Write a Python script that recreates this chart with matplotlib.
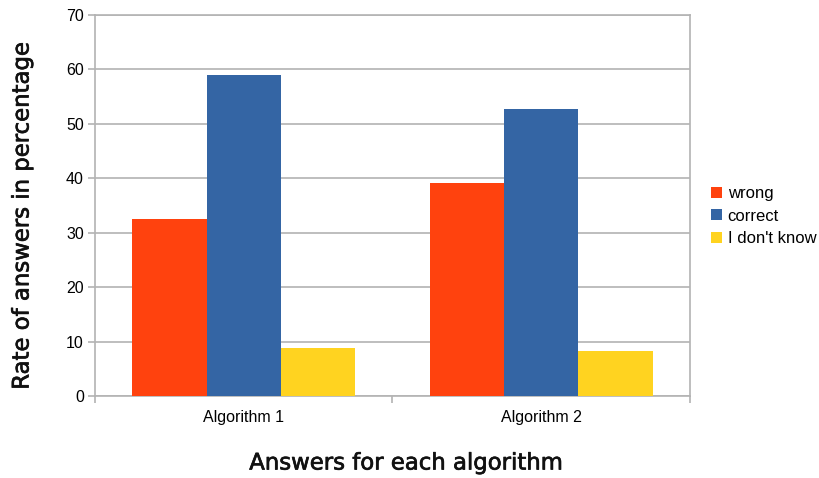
import numpy as np
import matplotlib.pyplot as plt
import matplotlib.patheffects as pe

plt.rcParams['font.family'] = ['Liberation Sans', 'DejaVu Sans']

# answer rates per algorithm (percent)
algorithms = ['Algorithm 1', 'Algorithm 2']
wrong = [32.6, 39.2]
correct = [58.9, 52.8]
dont_know = [8.8, 8.3]
series_names = ['wrong', 'correct', "I don't know"]
colors = ['#ff420e', '#3465a4', '#ffd320']

W, H = 820, 478
fig = plt.figure(figsize=(W / 100, H / 100), dpi=100)
ax = fig.add_axes([95 / W, 1 - 396 / H, 595 / W, 381 / H])

x = np.arange(len(algorithms))
w = 0.25
for i, (vals, name, c) in enumerate(zip([wrong, correct, dont_know], series_names, colors)):
    ax.bar(x + (i - 1) * w, vals, w, color=c, label=name, zorder=3)

grid_c = '#b3b3b3'
ax.set_ylim(0, 70)
ax.set_yticks(range(0, 71, 10))
ax.set_xlim(-0.5, len(algorithms) - 0.5)
ax.set_xticks(x)
ax.set_xticklabels(algorithms)
ax.set_xticks([-0.5, 0.5, 1.5], minor=True)
ax.tick_params(axis='x', which='major', length=0, pad=10, labelsize=11.5)
ax.tick_params(axis='x', which='minor', length=5, color=grid_c, width=1.2)
ax.tick_params(axis='y', length=5, color=grid_c, width=1.2, labelsize=11.5, pad=3)
ax.grid(axis='y', color=grid_c, linewidth=1.2, zorder=0)
for s in ax.spines.values():
    s.set_color(grid_c)
    s.set_linewidth(1.2)

# axis titles
thick = [pe.withStroke(linewidth=0.5, foreground='#111111')]
fig.text(22 / W, 1 - 216 / H, 'Rate of answers in percentage', family='DejaVu Sans',
         fontsize=16.4, rotation=90, ha='center', va='center', color='#111111',
         path_effects=thick)
fig.text(406 / W, 1 - 463 / H, 'Answers for each algorithm', family='DejaVu Sans',
         fontsize=16.4, ha='center', va='center', color='#111111',
         path_effects=thick)

ax.legend(loc='center left', bbox_to_anchor=(711 / W, 1 - 216 / H),
          bbox_transform=fig.transFigure, frameon=False, borderpad=0,
          borderaxespad=0, fontsize=12, handlelength=0.65, handleheight=0.65,
          handletextpad=0.35, labelspacing=0.45)

fig.savefig('out.png', dpi=100)
